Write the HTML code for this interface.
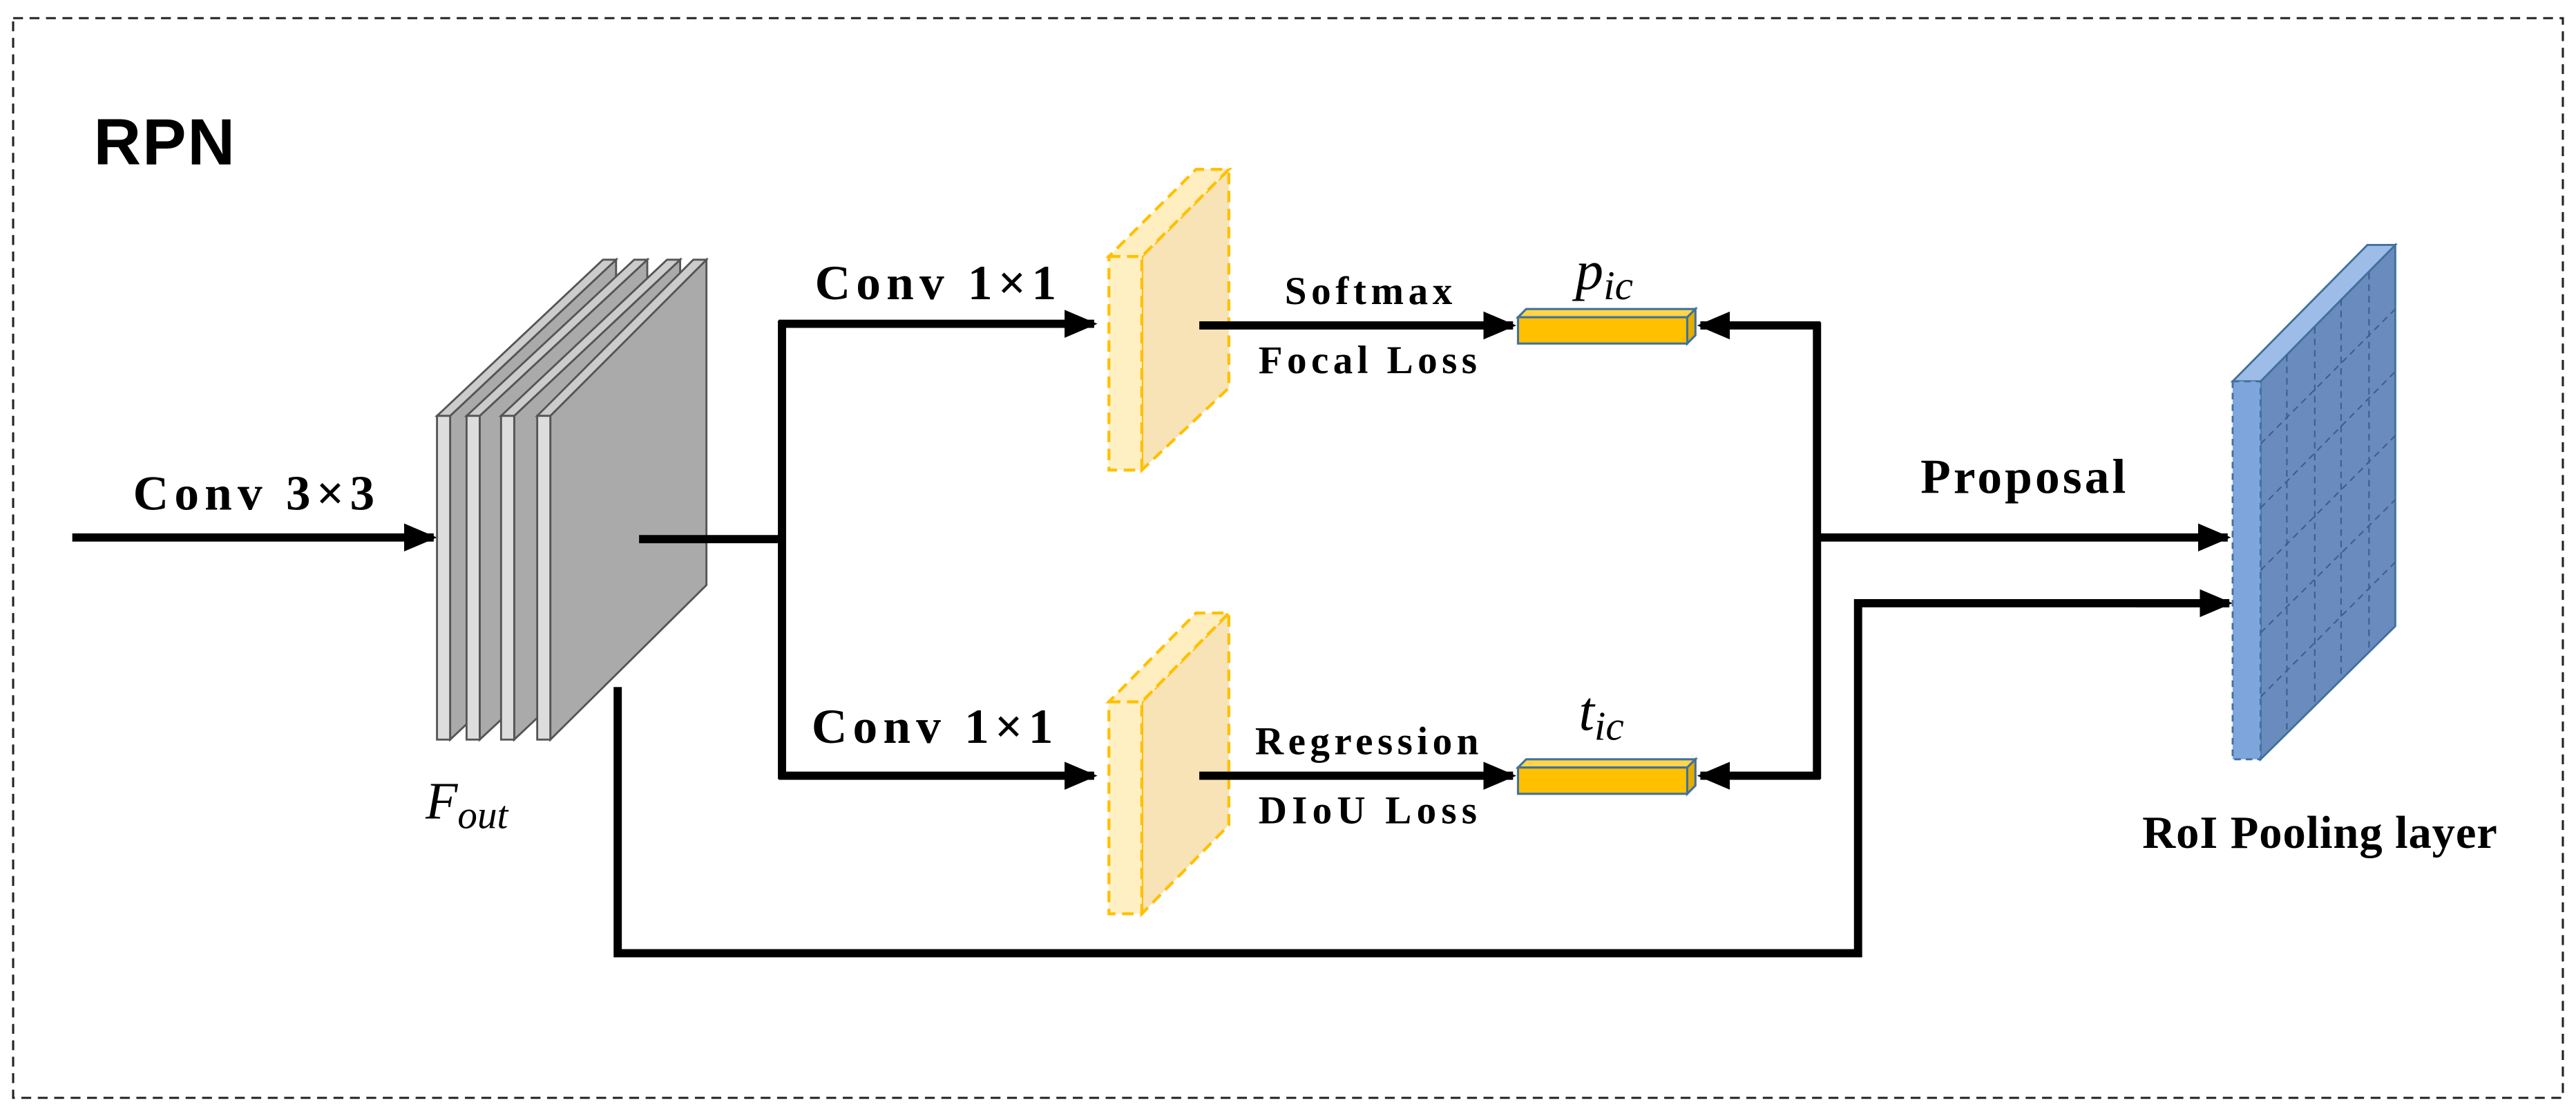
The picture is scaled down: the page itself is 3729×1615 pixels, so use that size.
<!DOCTYPE html>
<html><head><meta charset="utf-8"><style>
html,body{margin:0;padding:0;background:#fff}
svg{display:block}
.t{font-family:"Liberation Serif",serif;font-weight:bold;fill:#000}
.m{font-family:"Liberation Serif",serif;font-style:italic;fill:#000}
</style></head><body>
<svg width="3729" height="1615" viewBox="0 0 1568 679" xmlns="http://www.w3.org/2000/svg">
<defs>
<marker id="a" markerWidth="4" markerHeight="4" refX="3.6" refY="2" orient="auto" markerUnits="strokeWidth" viewBox="0 0 4 4"><path d="M0,0.3 L4,2 L0,3.7 Z" fill="#000"/></marker>
</defs>
<rect x="8" y="11" width="1552" height="657" fill="none" stroke="#222" stroke-width="1.3" stroke-dasharray="6,4"/>
<text x="57" y="100" font-family="Liberation Sans,sans-serif" font-weight="bold" font-size="40" textLength="86">RPN</text>

<!-- input arrow -->
<line x1="44" y1="327" x2="264" y2="327" stroke="#000" stroke-width="5" marker-end="url(#a)"/>
<text class="t" x="81" y="310" font-size="30" textLength="147">Conv 3×3</text>

<!-- gray stack -->
<g stroke="#555" stroke-width="1.2">
<g><polygon points="274,253 375,158 375,355 274,450" fill="#aaa"/><polygon points="266,253 274,253 375,158 367,158" fill="#ccc"/><rect x="266" y="253" width="8" height="197" fill="#ddd"/></g>
<g><polygon points="292,253 394,158 394,355 292,450" fill="#aaa"/><polygon points="284,253 292,253 394,158 386,158" fill="#ccc"/><rect x="284" y="253" width="8" height="197" fill="#ddd"/></g>
<g><polygon points="313,253 414,158 414,355 313,450" fill="#aaa"/><polygon points="305,253 313,253 414,158 406,158" fill="#ccc"/><rect x="305" y="253" width="8" height="197" fill="#ddd"/></g>
<g><polygon points="335,253 430,158 430,356 335,450" fill="#aaa"/><polygon points="327,253 335,253 430,158 422,158" fill="#ccc"/><rect x="327" y="253" width="8" height="197" fill="#ddd"/></g>
</g>
<text class="m" x="259" y="498" font-size="32">F<tspan font-size="24" dy="6">out</tspan></text>

<!-- branch -->
<polyline points="389,328 476,328" fill="none" stroke="#000" stroke-width="5"/>
<line x1="476" y1="195" x2="476" y2="474" stroke="#000" stroke-width="5"/>
<line x1="474" y1="197" x2="666" y2="197" stroke="#000" stroke-width="5" marker-end="url(#a)"/>
<line x1="474" y1="472" x2="666" y2="472" stroke="#000" stroke-width="5" marker-end="url(#a)"/>
<text class="t" x="496" y="182" font-size="30" textLength="147">Conv 1×1</text>
<text class="t" x="494" y="452" font-size="30" textLength="147">Conv 1×1</text>

<!-- yellow plates -->
<g stroke="#ffc000" stroke-width="1.8" stroke-dasharray="7,4">
<polygon points="695,156 748,103 748,236 695,286" fill="#f7e3b5"/>
<polygon points="675,156 695,156 748,103 728,103" fill="#ffeec0"/>
<rect x="675" y="156" width="20" height="130" fill="#fff0c4"/>
<polygon points="695,427 748,373 748,502 695,556" fill="#f7e3b5"/>
<polygon points="675,427 695,427 748,373 728,373" fill="#ffeec0"/>
<rect x="675" y="427" width="20" height="129" fill="#fff0c4"/>
</g>

<!-- to bars -->
<line x1="730" y1="198" x2="921" y2="198" stroke="#000" stroke-width="5" marker-end="url(#a)"/>
<line x1="730" y1="472" x2="921" y2="472" stroke="#000" stroke-width="5" marker-end="url(#a)"/>
<text class="t" x="782" y="185" font-size="24" textLength="102">Softmax</text>
<text class="t" x="766" y="227" font-size="24" textLength="133">Focal Loss</text>
<text class="t" x="764" y="459" font-size="24" textLength="136">Regression</text>
<text class="t" x="766" y="501" font-size="24" textLength="133">DIoU Loss</text>

<!-- yellow bars -->
<g stroke="#41719c" stroke-width="1.3">
<polygon points="924,193 929,188 1032,188 1027,193" fill="#ffd54a"/>
<polygon points="1027,193 1032,188 1032,204 1027,209" fill="#e6ac00"/>
<rect x="924" y="193" width="103" height="16" fill="#ffc000"/>
<polygon points="924,467 929,462 1032,462 1027,467" fill="#ffd54a"/>
<polygon points="1027,467 1032,462 1032,478 1027,483" fill="#e6ac00"/>
<rect x="924" y="467" width="103" height="16" fill="#ffc000"/>
</g>
<text class="m" x="959" y="176" font-size="34">p<tspan font-size="25" dy="6">ic</tspan></text>
<text class="m" x="961" y="444" font-size="34">t<tspan font-size="25" dy="6">ic</tspan></text>

<!-- back arrows -->
<line x1="1106" y1="196" x2="1106" y2="474" stroke="#000" stroke-width="5"/>
<line x1="1108" y1="198" x2="1035" y2="198" stroke="#000" stroke-width="5" marker-end="url(#a)"/>
<line x1="1108" y1="472" x2="1035" y2="472" stroke="#000" stroke-width="5" marker-end="url(#a)"/>
<line x1="1104" y1="327" x2="1356" y2="327" stroke="#000" stroke-width="5" marker-end="url(#a)"/>
<text class="t" x="1169" y="300" font-size="30" textLength="125">Proposal</text>

<!-- bottom skip -->
<polyline points="376,418 376,580 1131,580 1131,367 1356,367" fill="none" stroke="#000" stroke-width="5"/>
<line x1="1300" y1="367" x2="1357" y2="367" stroke="#000" stroke-width="5" marker-end="url(#a)"/>

<!-- blue plate -->
<g stroke="#41719c" stroke-width="1.2">
<polygon points="1376,232 1458,149 1458,381 1376,462" fill="#6a8bbd"/>
<polygon points="1359,232 1376,232 1458,149 1441,149" fill="#9dbde8"/>
<rect x="1359" y="232" width="17" height="230" fill="#7ea6dc" stroke-dasharray="4,3"/>
</g>
<g stroke="#3e5f8f" stroke-width="0.9" stroke-dasharray="4,3" fill="none">
<line x1="1392" y1="216" x2="1392" y2="446"/>
<line x1="1409" y1="199" x2="1409" y2="429"/>
<line x1="1425" y1="182" x2="1425" y2="413"/>
<line x1="1442" y1="166" x2="1442" y2="397"/>
<line x1="1376" y1="270" x2="1458" y2="188"/>
<line x1="1376" y1="309" x2="1458" y2="226"/>
<line x1="1376" y1="347" x2="1458" y2="265"/>
<line x1="1376" y1="385" x2="1458" y2="304"/>
<line x1="1376" y1="424" x2="1458" y2="342"/>
</g>
<text class="t" x="1304" y="516" font-size="28" textLength="216">RoI Pooling layer</text>
</svg>
</body></html>
